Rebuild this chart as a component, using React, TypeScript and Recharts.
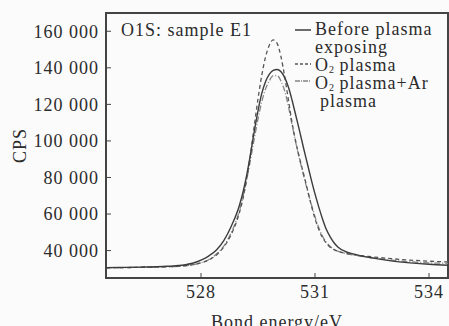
import React from "react"
import { LineChart, Line, XAxis, YAxis, ReferenceArea, Label } from "recharts"

// bond energy (eV)
const energy = [
  525.5, 526, 526.5, 527, 527.5, 527.8,
  528, 528.2, 528.4, 528.6, 528.8,
  529.0, 529.1, 529.2, 529.3, 529.4, 529.5, 529.6, 529.7, 529.8, 529.9,
  530.0, 530.1, 530.2, 530.3, 530.4, 530.5, 530.6, 530.7, 530.8, 530.9,
  531.0, 531.1, 531.2, 531.3, 531.4, 531.5, 531.6,
  531.8, 532, 532.5, 533, 533.5, 534, 534.5,
]
const beforePlasma = [
  30700, 30800, 31000, 31300, 32000, 33200,
  34800, 37000, 40200, 45500, 53500,
  64000, 71500, 81000, 92500, 105000, 116500, 126000, 132500, 136500, 138600,
  139100, 138000, 134800, 129500, 122000, 113500, 105000, 96000, 87500, 79000,
  71000, 63800, 57200, 51500, 47500, 44300, 42000,
  39500, 38200, 36000, 34400, 33300, 32500, 32000,
]
const o2Plasma = [
  30600, 30700, 30900, 31100, 31600, 32300,
  33300, 34800, 37500, 42000, 49000,
  60000, 68000, 79000, 92000, 108000, 123000, 136000, 146000, 152500, 155300,
  153500, 146500, 135500, 122500, 109500, 99000, 90000, 82000, 73500, 65000,
  57500, 51500, 47000, 44000, 41800, 40500, 39600,
  38500, 37800, 36600, 35600, 34800, 34200, 33800,
]
const o2ArPlasma = [
  30600, 30700, 30900, 31100, 31600, 32300,
  33300, 35000, 38000, 42500, 50000,
  61000, 69000, 78500, 89500, 101000, 112000, 121500, 128500, 133000, 135700,
  135800, 133000, 127500, 119000, 108500, 98500, 89500, 81000, 73000, 65500,
  58500, 52500, 47800, 44500, 42200, 40700, 39700,
  38400, 37600, 36000, 34800, 33900, 33300, 33000,
]
const yTicks = [40000, 60000, 80000, 100000, 120000, 140000, 160000]
const xTicks = [528, 531, 534]

const data = energy.map((e, i) => ({ e, before: beforePlasma[i], o2: o2Plasma[i], ar: o2ArPlasma[i] }))

const font = "'Liberation Serif', 'DejaVu Serif', serif"
const ink = "#2b2b2b"

const fmtY = (v: number) => `${v / 1000} 000`

export default function App() {
  const txt: React.CSSProperties = { position: "absolute", fontFamily: font, fontSize: 18, color: ink, letterSpacing: 1, lineHeight: "18px", whiteSpace: "nowrap" }
  const sub: React.CSSProperties = { fontSize: 10, verticalAlign: "-2px", letterSpacing: 0 }
  return (
    <div style={{ position: "fixed", left: 0, top: 0, width: 449, height: 326, background: "#fbfbfb", overflow: "hidden" }}>
      <LineChart width={449} height={326} data={data} margin={{ top: 13, right: 1, bottom: 0, left: 0 }}>
        <XAxis dataKey="e" type="number" domain={[525.5, 534.5]} ticks={xTicks} allowDataOverflow
          tickSize={-5} tickMargin={12} height={48} stroke="#444"
          tick={{ fill: ink, fontSize: 18, fontFamily: font, letterSpacing: 1 }} axisLine={{ stroke: "#444", strokeWidth: 2 }}>
          <Label value="Bond energy/eV" position="insideBottom" offset={-2} style={{ fill: ink, fontSize: 18, fontFamily: font, letterSpacing: 1 }} />
        </XAxis>
        <YAxis type="number" domain={[25000, 170000]} ticks={yTicks} allowDataOverflow width={106}
          tickSize={-5} tickMargin={12} tickFormatter={fmtY} stroke="#444"
          tick={{ fill: ink, fontSize: 18, fontFamily: font, letterSpacing: 1 }} axisLine={{ stroke: "#444", strokeWidth: 2 }}>
          <Label value="CPS" angle={-90} position="insideLeft" offset={20} style={{ fill: ink, fontSize: 18, fontFamily: font, letterSpacing: 1, textAnchor: "middle" }} />
        </YAxis>
        <ReferenceArea x1={525.5} x2={534.5} y1={25000} y2={170000} fill="none" stroke="#444" strokeWidth={2} ifOverflow="extendDomain" />
        <Line type="monotone" dataKey="ar" stroke="#858585" strokeWidth={1.3} strokeDasharray="6 2 1 2" dot={false} isAnimationActive={false} />
        <Line type="monotone" dataKey="o2" stroke="#555" strokeWidth={1.3} strokeDasharray="4 3" dot={false} isAnimationActive={false} />
        <Line type="monotone" dataKey="before" stroke="#3c3c3c" strokeWidth={1.4} dot={false} isAnimationActive={false} />
      </LineChart>

      <div style={{ ...txt, left: 121, top: 21 }}>O1S: sample E1</div>

      <svg style={{ position: "absolute", left: 0, top: 0 }} width={449} height={326}>
        <line x1={295} x2={311} y1={30} y2={30} stroke="#3c3c3c" strokeWidth={1.5} />
        <line x1={295} x2={311} y1={64} y2={64} stroke="#555" strokeWidth={1.3} strokeDasharray="3 2" />
        <line x1={295} x2={311} y1={81} y2={81} stroke="#858585" strokeWidth={1.3} strokeDasharray="5 1 1 1" />
      </svg>
      <div style={{ ...txt, left: 315, top: 20 }}>Before plasma</div>
      <div style={{ ...txt, left: 315, top: 38 }}>exposing</div>
      <div style={{ ...txt, left: 315, top: 56 }}>O<sub style={sub}>2</sub> plasma</div>
      <div style={{ ...txt, left: 315, top: 74 }}>O<sub style={sub}>2</sub> plasma+Ar</div>
      <div style={{ ...txt, left: 320, top: 92 }}>plasma</div>
    </div>
  )
}
